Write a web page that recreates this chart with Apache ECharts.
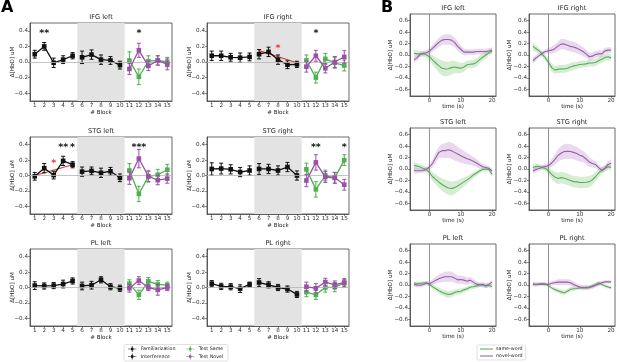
<!DOCTYPE html>
<html>
<head>
<meta charset="utf-8">
<script src="https://cdn.jsdelivr.net/npm/echarts@6/dist/echarts.min.js"></script>
<style>
  html, body { margin: 0; padding: 0; background: #fff; }
  #main { width: 617px; height: 362px; }
</style>
</head>
<body>
<div id="main"></div>
<script>
// ---- panel A: block means +- SE ----
const BLOCK_TICKS = [1, 2, 3, 4, 5, 6, 7, 8, 9, 10, 11, 12, 13, 14, 15]
const FAM_BLOCKS = [1, 2, 3, 4, 5]
const INT_BLOCKS = [6, 7, 8, 9, 10]
const TEST_BLOCKS = [11, 12, 13, 14, 15]
const A_Y_TICKS = [-0.4, -0.2, 0.0, 0.2, 0.4]

const IFGL_FAM = [0.10, 0.20, -0.01, 0.03, 0.08]
const IFGL_FAM_SE = [0.05, 0.05, 0.06, 0.05, 0.04]
const IFGL_INT = [0.06, 0.095, 0.03, 0.02, -0.04]
const IFGL_INT_SE = [0.08, 0.06, 0.06, 0.05, 0.05]
const IFGL_SAME = [0.02, -0.19, 0.01, 0.02, 0.00]
const IFGL_SAME_SE = [0.11, 0.10, 0.07, 0.06, 0.06]
const IFGL_NOVEL = [-0.09, 0.15, -0.05, 0.02, -0.03]
const IFGL_NOVEL_SE = [0.07, 0.09, 0.06, 0.06, 0.07]
const IFGL_STARS = [[2, 0.4, '**'], [12, 0.4, '*']]

const IFGR_FAM = [0.08, 0.08, 0.06, 0.055, 0.065]
const IFGR_FAM_SE = [0.06, 0.06, 0.05, 0.06, 0.05]
const IFGR_INT = [0.10, 0.13, 0.03, -0.035, -0.03]
const IFGR_INT_SE = [0.06, 0.06, 0.06, 0.05, 0.04]
const IFGR_SAME = [0.02, -0.20, 0.04, -0.01, -0.045]
const IFGR_SAME_SE = [0.07, 0.07, 0.07, 0.07, 0.07]
const IFGR_NOVEL = [-0.06, 0.08, -0.08, 0.0, 0.065]
const IFGR_NOVEL_SE = [0.07, 0.07, 0.06, 0.07, 0.08]
const IFGR_STARS = [[12, 0.4, '*']]
const IFGR_RED_STARS = [[8, 0.2, '*']]
const IFGR_FIT = [[6, 0.145], [10, -0.01]]

const STGL_FAM = [-0.01, 0.095, 0.005, 0.19, 0.14]
const STGL_FAM_SE = [0.05, 0.06, 0.05, 0.06, 0.04]
const STGL_INT = [0.05, 0.06, 0.035, 0.055, -0.03]
const STGL_INT_SE = [0.06, 0.05, 0.06, 0.05, 0.05]
const STGL_SAME = [0.065, -0.24, -0.015, 0.01, 0.075]
const STGL_SAME_SE = [0.09, 0.10, 0.07, 0.07, 0.07]
const STGL_NOVEL = [-0.035, 0.22, -0.01, -0.06, -0.04]
const STGL_NOVEL_SE = [0.08, 0.12, 0.07, 0.06, 0.06]
const STGL_STARS = [[4, 0.4, '**'], [5, 0.4, '*'], [12, 0.4, '***']]
const STGL_RED_STARS = [[3, 0.19, '*']]
const STGL_FIT = [[1, 0.0], [5, 0.14]]

const STGR_FAM = [0.085, 0.09, 0.08, 0.045, 0.065]
const STGR_FAM_SE = [0.08, 0.07, 0.06, 0.06, 0.06]
const STGR_INT = [0.085, 0.085, 0.065, 0.11, 0.0]
const STGR_INT_SE = [0.07, 0.06, 0.06, 0.06, 0.06]
const STGR_SAME = [0.08, -0.18, 0.0, -0.03, 0.2]
const STGR_SAME_SE = [0.08, 0.10, 0.07, 0.07, 0.07]
const STGR_NOVEL = [-0.065, 0.17, -0.02, -0.03, -0.12]
const STGR_NOVEL_SE = [0.08, 0.10, 0.07, 0.07, 0.07]
const STGR_STARS = [[12, 0.4, '**'], [15, 0.4, '*']]

const PLL_FAM = [0.025, 0.02, 0.025, 0.045, 0.085]
const PLL_FAM_SE = [0.05, 0.04, 0.04, 0.05, 0.04]
const PLL_INT = [0.02, 0.03, 0.10, 0.01, -0.01]
const PLL_INT_SE = [0.05, 0.05, 0.04, 0.04, 0.04]
const PLL_SAME = [0.05, -0.095, 0.08, 0.04, 0.03]
const PLL_SAME_SE = [0.05, 0.06, 0.05, 0.05, 0.04]
const PLL_NOVEL = [-0.01, 0.09, 0.0, -0.03, 0.0]
const PLL_NOVEL_SE = [0.05, 0.05, 0.04, 0.07, 0.04]

const PLR_FAM = [0.05, 0.015, 0.01, -0.015, 0.04]
const PLR_FAM_SE = [0.04, 0.04, 0.04, 0.05, 0.03]
const PLR_INT = [0.065, 0.035, 0.0, -0.02, -0.09]
const PLR_INT_SE = [0.05, 0.04, 0.04, 0.04, 0.04]
const PLR_SAME = [-0.06, -0.095, 0.0, 0.005, 0.055]
const PLR_SAME_SE = [0.06, 0.06, 0.06, 0.06, 0.05]
const PLR_NOVEL = [0.01, -0.01, 0.07, 0.035, 0.065]
const PLR_NOVEL_SE = [0.06, 0.06, 0.05, 0.05, 0.05]

// ---- panel B: time courses (mean +- SE), 1 s steps ----
const TIME = [-5, -4, -3, -2, -1, 0, 1, 2, 3, 4, 5, 6, 7, 8, 9, 10, 11, 12, 13, 14, 15, 16, 17, 18, 19, 20]
const TIME_TICKS = [0, 10, 20]
const B_Y_TICKS = [-0.6, -0.4, -0.2, 0.0, 0.2, 0.4, 0.6]

const IFGL_SAME_T = [0.03, 0.02, 0.02, 0.02, 0.0, -0.03, -0.09, -0.14, -0.19, -0.23, -0.245, -0.24, -0.22, -0.21, -0.22, -0.23, -0.21, -0.17, -0.16, -0.155, -0.13, -0.08, -0.04, 0.0, 0.04, 0.07]
const IFGL_SAME_T_SE = [0.06, 0.06, 0.05, 0.05, 0.05, 0.06, 0.08, 0.10, 0.12, 0.13, 0.13, 0.12, 0.12, 0.11, 0.10, 0.09, 0.08, 0.07, 0.07, 0.07, 0.07, 0.07, 0.06, 0.06, 0.05, 0.05]
const IFGL_NOVEL_T = [-0.085, -0.05, 0.01, 0.03, 0.04, 0.07, 0.12, 0.17, 0.22, 0.26, 0.27, 0.27, 0.26, 0.22, 0.15, 0.10, 0.05, 0.05, 0.05, 0.05, 0.06, 0.06, 0.06, 0.06, 0.07, 0.08]
const IFGL_NOVEL_T_SE = [0.05, 0.05, 0.04, 0.04, 0.04, 0.05, 0.06, 0.07, 0.08, 0.08, 0.09, 0.09, 0.09, 0.08, 0.08, 0.07, 0.06, 0.05, 0.05, 0.05, 0.05, 0.05, 0.05, 0.05, 0.05, 0.05]

const IFGR_SAME_T = [0.15, 0.11, 0.07, 0.01, -0.05, -0.13, -0.22, -0.26, -0.25, -0.24, -0.245, -0.23, -0.21, -0.19, -0.18, -0.165, -0.16, -0.155, -0.14, -0.14, -0.13, -0.10, -0.075, -0.045, -0.03, -0.05]
const IFGR_SAME_T_SE = [0.07, 0.06, 0.05, 0.05, 0.05, 0.06, 0.07, 0.07, 0.07, 0.07, 0.07, 0.07, 0.07, 0.07, 0.06, 0.06, 0.06, 0.06, 0.06, 0.06, 0.06, 0.06, 0.06, 0.06, 0.06, 0.06]
const IFGR_NOVEL_T = [-0.10, -0.05, -0.01, 0.03, 0.06, 0.075, 0.085, 0.11, 0.155, 0.19, 0.19, 0.17, 0.15, 0.14, 0.12, 0.09, 0.06, 0.02, -0.03, -0.02, 0.01, 0.02, 0.02, 0.07, 0.085, 0.085]
const IFGR_NOVEL_T_SE = [0.05, 0.05, 0.04, 0.04, 0.04, 0.05, 0.06, 0.07, 0.08, 0.09, 0.09, 0.09, 0.09, 0.09, 0.09, 0.08, 0.08, 0.07, 0.07, 0.06, 0.06, 0.06, 0.06, 0.05, 0.05, 0.05]

const STGL_SAME_T = [0.06, 0.05, 0.035, 0.01, -0.01, -0.065, -0.135, -0.18, -0.23, -0.27, -0.305, -0.33, -0.34, -0.325, -0.295, -0.26, -0.225, -0.19, -0.15, -0.105, -0.07, -0.035, -0.01, 0.0, -0.01, -0.095]
const STGL_SAME_T_SE = [0.07, 0.06, 0.05, 0.05, 0.05, 0.06, 0.08, 0.09, 0.10, 0.11, 0.12, 0.12, 0.12, 0.11, 0.10, 0.09, 0.08, 0.07, 0.06, 0.05, 0.05, 0.04, 0.04, 0.04, 0.04, 0.05]
const STGL_NOVEL_T = [-0.025, -0.03, -0.03, -0.025, -0.005, 0.035, 0.10, 0.20, 0.29, 0.32, 0.32, 0.335, 0.32, 0.29, 0.26, 0.23, 0.205, 0.18, 0.16, 0.135, 0.105, 0.07, 0.04, 0.025, 0.01, -0.035]
const STGL_NOVEL_T_SE = [0.05, 0.05, 0.04, 0.04, 0.04, 0.05, 0.07, 0.09, 0.10, 0.12, 0.13, 0.14, 0.14, 0.14, 0.13, 0.12, 0.11, 0.10, 0.09, 0.08, 0.07, 0.06, 0.05, 0.04, 0.04, 0.05]

const STGR_SAME_T = [0.025, 0.045, 0.045, 0.025, 0.01, -0.035, -0.095, -0.14, -0.165, -0.15, -0.16, -0.18, -0.2, -0.22, -0.225, -0.235, -0.235, -0.23, -0.22, -0.19, -0.135, -0.07, -0.025, 0.01, 0.04, 0.025]
const STGR_SAME_T_SE = [0.05, 0.05, 0.04, 0.04, 0.05, 0.06, 0.08, 0.09, 0.10, 0.10, 0.10, 0.10, 0.10, 0.10, 0.10, 0.10, 0.10, 0.10, 0.10, 0.09, 0.08, 0.07, 0.06, 0.05, 0.05, 0.05]
const STGR_NOVEL_T = [-0.035, -0.01, 0.01, 0.03, 0.045, 0.06, 0.105, 0.165, 0.235, 0.275, 0.305, 0.31, 0.305, 0.29, 0.27, 0.24, 0.22, 0.175, 0.12, 0.095, 0.08, 0.025, -0.02, 0.01, 0.08, 0.10]
const STGR_NOVEL_T_SE = [0.05, 0.05, 0.04, 0.04, 0.04, 0.05, 0.07, 0.09, 0.11, 0.12, 0.13, 0.13, 0.13, 0.12, 0.12, 0.11, 0.10, 0.09, 0.08, 0.07, 0.06, 0.05, 0.05, 0.05, 0.06, 0.07]

const PLL_SAME_T = [0.01, 0.02, 0.03, 0.035, 0.04, 0.01, -0.03, -0.065, -0.10, -0.13, -0.15, -0.165, -0.155, -0.13, -0.115, -0.11, -0.085, -0.065, -0.04, -0.03, -0.015, 0.0, 0.0, -0.015, -0.005, -0.03]
const PLL_SAME_T_SE = [0.04, 0.04, 0.03, 0.03, 0.03, 0.03, 0.04, 0.04, 0.05, 0.05, 0.06, 0.06, 0.06, 0.05, 0.05, 0.05, 0.04, 0.04, 0.04, 0.04, 0.04, 0.04, 0.04, 0.04, 0.04, 0.04]
const PLL_NOVEL_T = [0.02, 0.0, -0.005, 0.01, 0.03, 0.02, 0.05, 0.085, 0.11, 0.13, 0.145, 0.145, 0.145, 0.12, 0.09, 0.095, 0.085, 0.065, 0.085, 0.05, 0.015, 0.005, 0.01, -0.015, 0.01, 0.05]
const PLL_NOVEL_T_SE = [0.05, 0.04, 0.04, 0.04, 0.04, 0.04, 0.05, 0.06, 0.07, 0.08, 0.09, 0.09, 0.09, 0.08, 0.07, 0.07, 0.07, 0.06, 0.06, 0.05, 0.05, 0.04, 0.04, 0.04, 0.04, 0.05]

const PLR_SAME_T = [0.01, 0.01, 0.015, 0.02, 0.015, -0.015, -0.05, -0.08, -0.10, -0.12, -0.135, -0.11, -0.075, -0.065, -0.06, -0.05, -0.05, -0.04, -0.035, -0.015, 0.005, 0.04, 0.01, -0.015, -0.035, -0.05]
const PLR_SAME_T_SE = [0.03, 0.03, 0.03, 0.03, 0.03, 0.03, 0.03, 0.04, 0.04, 0.04, 0.04, 0.04, 0.04, 0.04, 0.03, 0.03, 0.03, 0.03, 0.03, 0.03, 0.03, 0.03, 0.03, 0.03, 0.03, 0.03]
const PLR_NOVEL_T = [0.02, 0.01, 0.015, 0.02, 0.015, 0.01, 0.03, 0.04, 0.05, 0.05, 0.05, 0.05, 0.04, 0.01, -0.015, -0.035, -0.045, -0.05, -0.045, -0.03, -0.005, 0.015, 0.04, 0.055, 0.055, 0.055]
const PLR_NOVEL_T_SE = [0.04, 0.04, 0.03, 0.03, 0.03, 0.03, 0.04, 0.04, 0.05, 0.05, 0.05, 0.05, 0.05, 0.05, 0.04, 0.04, 0.04, 0.04, 0.04, 0.04, 0.04, 0.04, 0.03, 0.03, 0.03, 0.03]

// ---- tables the builder walks over ----
const A_PANELS = [
  { title: 'IFG left', fam: IFGL_FAM, famSe: IFGL_FAM_SE, int: IFGL_INT, intSe: IFGL_INT_SE, same: IFGL_SAME, sameSe: IFGL_SAME_SE, novel: IFGL_NOVEL, novelSe: IFGL_NOVEL_SE, stars: IFGL_STARS },
  { title: 'IFG right', fam: IFGR_FAM, famSe: IFGR_FAM_SE, int: IFGR_INT, intSe: IFGR_INT_SE, same: IFGR_SAME, sameSe: IFGR_SAME_SE, novel: IFGR_NOVEL, novelSe: IFGR_NOVEL_SE, stars: IFGR_STARS, redStars: IFGR_RED_STARS, fit: IFGR_FIT },
  { title: 'STG left', fam: STGL_FAM, famSe: STGL_FAM_SE, int: STGL_INT, intSe: STGL_INT_SE, same: STGL_SAME, sameSe: STGL_SAME_SE, novel: STGL_NOVEL, novelSe: STGL_NOVEL_SE, stars: STGL_STARS, redStars: STGL_RED_STARS, fit: STGL_FIT },
  { title: 'STG right', fam: STGR_FAM, famSe: STGR_FAM_SE, int: STGR_INT, intSe: STGR_INT_SE, same: STGR_SAME, sameSe: STGR_SAME_SE, novel: STGR_NOVEL, novelSe: STGR_NOVEL_SE, stars: STGR_STARS },
  { title: 'PL left', fam: PLL_FAM, famSe: PLL_FAM_SE, int: PLL_INT, intSe: PLL_INT_SE, same: PLL_SAME, sameSe: PLL_SAME_SE, novel: PLL_NOVEL, novelSe: PLL_NOVEL_SE, stars: [] },
  { title: 'PL right', fam: PLR_FAM, famSe: PLR_FAM_SE, int: PLR_INT, intSe: PLR_INT_SE, same: PLR_SAME, sameSe: PLR_SAME_SE, novel: PLR_NOVEL, novelSe: PLR_NOVEL_SE, stars: [] }
]
const B_PANELS = [
  { title: 'IFG left', same: IFGL_SAME_T, sameSe: IFGL_SAME_T_SE, novel: IFGL_NOVEL_T, novelSe: IFGL_NOVEL_T_SE },
  { title: 'IFG right', same: IFGR_SAME_T, sameSe: IFGR_SAME_T_SE, novel: IFGR_NOVEL_T, novelSe: IFGR_NOVEL_T_SE },
  { title: 'STG left', same: STGL_SAME_T, sameSe: STGL_SAME_T_SE, novel: STGL_NOVEL_T, novelSe: STGL_NOVEL_T_SE },
  { title: 'STG right', same: STGR_SAME_T, sameSe: STGR_SAME_T_SE, novel: STGR_NOVEL_T, novelSe: STGR_NOVEL_T_SE },
  { title: 'PL left', same: PLL_SAME_T, sameSe: PLL_SAME_T_SE, novel: PLL_NOVEL_T, novelSe: PLL_NOVEL_T_SE },
  { title: 'PL right', same: PLR_SAME_T, sameSe: PLR_SAME_T_SE, novel: PLR_NOVEL_T, novelSe: PLR_NOVEL_T_SE }
]

// ---- look ----
const FONT = 'DejaVu Sans'
const INK = '#111', GREEN = '#4fb04f', PURPLE = '#9b4fa9', RED = '#e8392e'
const B_GREEN = '#5aad5a', B_PURPLE = '#9660a6'
const B_GREEN_BAND = 'rgba(95,185,90,0.26)', B_PURPLE_BAND = 'rgba(170,105,190,0.26)'
const A_LEFT = [30, 207], A_TOP = [23, 137, 249], A_H = [78, 77, 77], A_W = 142
const B_LEFT = [410, 529], B_TOP = [14, 128, 244], B_H = 82, B_W = 86
const ERR_ICON = 'path://M0,4.4H14V5.6H0Z M6.4,0H7.6V10H6.4Z M5,3H9V7H5Z'
const LINE_ICON = 'path://M0,0H20V1.6H0Z'

let $ = s => document.querySelector(s)

const tickFmt = v => (v < -1e-9 ? '\u2212' : '') + Math.abs(v).toFixed(1)

const Figure = {
  init() {
    this.chart = echarts.init($('#main'))
    this.grid = []
    this.xAxis = []
    this.yAxis = []
    this.series = []
    this.title = [
      { text: 'A', left: 1, top: 0, padding: 0, textStyle: { fontFamily: FONT, fontSize: 16, fontWeight: 'bold', color: '#000' } },
      { text: 'B', left: 381, top: 0, padding: 0, textStyle: { fontFamily: FONT, fontSize: 16, fontWeight: 'bold', color: '#000' } }
    ]
    A_PANELS.forEach((p, i) => this.blockPanel(p, i))
    B_PANELS.forEach((p, i) => this.timePanel(p, i))
    this.render()
  },

  box(left, top, width, height) {
    return { left, top, width, height, show: true, borderColor: '#444', borderWidth: 0.8,
      backgroundColor: 'rgba(0,0,0,0)', containLabel: false, outerBoundsMode: 'none' }
  },

  axis(gridIndex, min, max, ticks, fmt, name, gap) {
    return {
      gridIndex, type: 'value', min, max,
      name, nameLocation: 'middle', nameGap: gap, nameMoveOverlap: false,
      nameTextStyle: { fontFamily: FONT, fontSize: 5.6, color: '#222' },
      axisLine: { show: true, onZero: false, lineStyle: { color: '#444', width: 0.8 } },
      axisTick: { show: true, customValues: ticks, length: 2, lineStyle: { color: '#444', width: 0.6 } },
      axisLabel: { customValues: ticks, formatter: fmt, fontFamily: FONT, fontSize: 5.6, color: '#333', margin: 2 },
      splitLine: { show: false },
      axisPointer: { show: false }
    }
  },

  addTitle(text, cx, top) {
    this.title.push({ text, left: cx, top, textAlign: 'center', padding: 0,
      textStyle: { fontFamily: FONT, fontSize: 6.6, fontWeight: 'normal', color: '#222' } })
  },

  errRender(params, api) {
    const x = api.value(0), y = api.value(1), e = api.value(2)
    const hi = api.coord([x, y + e]), lo = api.coord([x, y - e])
    const c = api.visual('color')
    const st = { stroke: c, lineWidth: 1 }
    return { type: 'group', children: [
      { type: 'line', shape: { x1: hi[0], y1: hi[1], x2: lo[0], y2: lo[1] }, style: st },
      { type: 'line', shape: { x1: hi[0] - 2, y1: hi[1], x2: hi[0] + 2, y2: hi[1] }, style: st },
      { type: 'line', shape: { x1: lo[0] - 2, y1: lo[1], x2: lo[0] + 2, y2: lo[1] }, style: st }
    ] }
  },

  starRender(color) {
    return (params, api) => {
      const p = api.coord([api.value(0), api.value(1)])
      return { type: 'text', x: p[0], y: p[1] + 2.5,
        style: { text: api.value(2), fill: color, font: 'bold 9.5px "DejaVu Sans"', align: 'center', verticalAlign: 'middle' } }
    }
  },

  group(g, name, xs, ys, se, color, z) {
    const pts = xs.map((x, k) => [x, ys[k]])
    this.series.push({
      type: 'custom', xAxisIndex: g, yAxisIndex: g, silent: true, z: z,
      itemStyle: { color }, renderItem: this.errRender, encode: { x: 0, y: 1 },
      data: xs.map((x, k) => [x, ys[k], se[k]])
    })
    this.series.push({
      type: 'line', name, xAxisIndex: g, yAxisIndex: g, data: pts, z: z + 1,
      symbol: 'rect', symbolSize: 4.6, color, itemStyle: { color },
      lineStyle: { color, width: 1.3 }, silent: true
    })
  },

  blockPanel(p, i) {
    const g = this.grid.length, col = i % 2, row = Math.floor(i / 2)
    this.grid.push(this.box(A_LEFT[col], A_TOP[row], A_W, A_H[row]))
    this.xAxis.push(this.axis(g, 0.5, 15.5, BLOCK_TICKS, v => String(v), '# Block', 9))
    this.yAxis.push(this.axis(g, -0.5, 0.5, A_Y_TICKS, tickFmt, '\u0394[HbO] uM', 14))
    this.addTitle(p.title, A_LEFT[col] + A_W / 2, A_TOP[row] - 9)

    // interference shading and zero line
    this.series.push({
      type: 'line', xAxisIndex: g, yAxisIndex: g, data: [], z: 1, silent: true,
      markArea: { silent: true, itemStyle: { color: '#e3e3e3' }, data: [[{ xAxis: 5.5 }, { xAxis: 10.5 }]] },
      markLine: { silent: true, symbol: 'none', label: { show: false },
        lineStyle: { color: '#b5b5b5', width: 0.8, type: 'solid' }, data: [{ yAxis: 0 }] }
    })
    if (p.fit) {
      this.series.push({ type: 'line', xAxisIndex: g, yAxisIndex: g, data: p.fit, z: 2, silent: true,
        symbol: 'none', lineStyle: { color: RED, width: 1.2 } })
    }
    this.group(g, 'Familiarization', FAM_BLOCKS, p.fam, p.famSe, INK, 3)
    this.group(g, 'Interference', INT_BLOCKS, p.int, p.intSe, INK, 3)
    this.group(g, 'Test Same', TEST_BLOCKS, p.same, p.sameSe, GREEN, 3)
    this.group(g, 'Test Novel', TEST_BLOCKS, p.novel, p.novelSe, PURPLE, 5)
    if (p.stars.length) {
      this.series.push({ type: 'custom', xAxisIndex: g, yAxisIndex: g, silent: true, z: 8,
        renderItem: this.starRender('#111'), encode: { x: 0, y: 1 }, data: p.stars })
    }
    if (p.redStars) {
      this.series.push({ type: 'custom', xAxisIndex: g, yAxisIndex: g, silent: true, z: 8,
        renderItem: this.starRender(RED), encode: { x: 0, y: 1 }, data: p.redStars })
    }
  },

  bandRender(mean, se, fill) {
    return (params, api) => {
      if (params.dataIndex !== 0) return
      const pts = []
      TIME.forEach((t, k) => pts.push(api.coord([t, mean[k] + se[k]])))
      for (let k = TIME.length - 1; k >= 0; k--) pts.push(api.coord([TIME[k], mean[k] - se[k]]))
      return { type: 'polygon', shape: { points: pts }, style: { fill } }
    }
  },

  timePanel(p, i) {
    const g = this.grid.length, col = i % 2, row = Math.floor(i / 2)
    this.grid.push(this.box(B_LEFT[col], B_TOP[row], B_W, B_H))
    this.xAxis.push(this.axis(g, -6.25, 21.25, TIME_TICKS, v => String(v), 'time (s)', 8))
    this.yAxis.push(this.axis(g, -0.715, 0.715, B_Y_TICKS, tickFmt, '\u0394[HbO] uM', 16))
    this.addTitle(p.title, B_LEFT[col] + B_W / 2, B_TOP[row] - 9)

    const tdata = arr => TIME.map((t, k) => [t, arr[k]])
    this.series.push({ type: 'custom', xAxisIndex: g, yAxisIndex: g, silent: true, z: 1,
      renderItem: this.bandRender(p.same, p.sameSe, B_GREEN_BAND), encode: { x: 0, y: 1 }, data: tdata(p.same) })
    this.series.push({ type: 'custom', xAxisIndex: g, yAxisIndex: g, silent: true, z: 1,
      renderItem: this.bandRender(p.novel, p.novelSe, B_PURPLE_BAND), encode: { x: 0, y: 1 }, data: tdata(p.novel) })
    this.series.push({ type: 'line', name: 'same-word', xAxisIndex: g, yAxisIndex: g, data: tdata(p.same), z: 3,
      symbol: 'none', color: B_GREEN, lineStyle: { color: B_GREEN, width: 1.1 }, silent: true,
      markLine: { silent: true, symbol: 'none', label: { show: false },
        lineStyle: { color: '#777', width: 0.8, type: 'solid' }, data: [{ xAxis: 0 }] } })
    this.series.push({ type: 'line', name: 'novel-word', xAxisIndex: g, yAxisIndex: g, data: tdata(p.novel), z: 4,
      symbol: 'none', color: B_PURPLE, lineStyle: { color: B_PURPLE, width: 1.1 }, silent: true })
  },

  legend(data, left, top, icon, extra) {
    return Object.assign({
      data, left, top, orient: 'vertical', icon, itemWidth: 11, itemHeight: 6, itemGap: 1.5,
      padding: 0, selectedMode: false,
      textStyle: { fontFamily: FONT, fontSize: 4.8, color: '#222', padding: [0, 0, 0, -2] }
    }, extra || {})
  },

  render() {
    const option = {
      animation: false,
      title: this.title,
      grid: this.grid,
      xAxis: this.xAxis,
      yAxis: this.yAxis,
      legend: [
        this.legend(['Familiarization', 'Interference'], 128, 346, ERR_ICON),
        this.legend(['Test Same', 'Test Novel'], 186, 346, ERR_ICON),
        this.legend(['same-word', 'novel-word'], 477, 345, LINE_ICON,
          { itemWidth: 13, itemHeight: 5, itemGap: 2, padding: [1.5, 3], borderColor: '#ccc', borderWidth: 0.6, borderRadius: 1.5 })
      ],
      graphic: [{ type: 'rect', shape: { x: 124, y: 344.5, width: 104, height: 16.5, r: 1.5 },
        style: { fill: 'none', stroke: '#ccc', lineWidth: 0.6 }, silent: true }],
      series: this.series
    }
    this.chart.setOption(option)
  }
}

Figure.init()
</script>
</body>
</html>
